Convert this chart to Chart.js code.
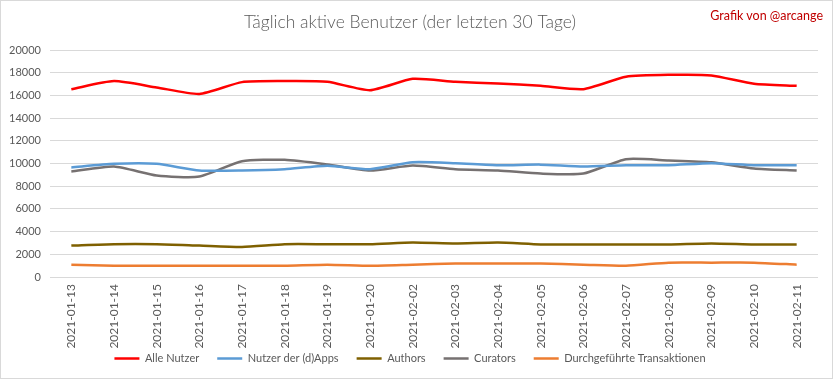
<!DOCTYPE html>
<html>
<head>
<meta charset="utf-8">
<script src="https://cdn.jsdelivr.net/npm/chart.js@4"></script>
<style>
    html, body { margin: 0; padding: 0; background: #fff; }
    #wrap { position: relative; width: 833px; height: 379px; box-sizing: border-box; border: 1px solid #d9d9d9; }
    #credit { position: absolute; top: 7px; right: 9px; font: 12.5px Lato, sans-serif; color: #c00000; }
</style>
</head>
<body>
<div id="wrap">
    <canvas id="chart" width="831" height="377"></canvas>
    <div id="credit">Grafik von @arcange</div>
</div>
<script>
// ── Data ───────────────────────────────────────────────
var dates = ['2021-01-13', '2021-01-14', '2021-01-15', '2021-01-16', '2021-01-17', '2021-01-18',
             '2021-01-19', '2021-01-20', '2021-02-02', '2021-02-03', '2021-02-04', '2021-02-05',
             '2021-02-06', '2021-02-07', '2021-02-08', '2021-02-09', '2021-02-10', '2021-02-11'];

var alleNutzer   = [16550, 17260, 16700, 16130, 17170, 17260, 17200, 16460, 17460, 17200,
                    17050, 16840, 16550, 17640, 17810, 17760, 17020, 16840];
var dappsNutzer  = [9650, 9970, 9970, 9380, 9380, 9500, 9800, 9500, 10110, 10030,
                    9850, 9900, 9730, 9850, 9850, 10030, 9850, 9850];
var authors      = [2770, 2890, 2890, 2770, 2650, 2890, 2890, 2890, 3035, 2950,
                    3035, 2860, 2860, 2860, 2860, 2950, 2860, 2860];
var curators     = [9290, 9730, 8940, 8850, 10200, 10320, 9910, 9380, 9820, 9500,
                    9380, 9115, 9115, 10380, 10270, 10110, 9560, 9380];
var transaktionen = [1090, 1000, 1000, 1000, 1000, 1000, 1090, 1000, 1090, 1180,
                     1180, 1180, 1090, 1000, 1265, 1265, 1265, 1090];

var yTicks = [0, 2000, 4000, 6000, 8000, 10000, 12000, 14000, 16000, 18000, 20000];

// ── Style helpers ──────────────────────────────────────
var textColor = '#595959';
var gridColor = '#d9d9d9';
var fontFamily = 'Lato, sans-serif';

function series(label, data, color) {
    return {
        label: label, data: data,
        borderColor: color, backgroundColor: color,
        borderWidth: 2.5, pointRadius: 0, tension: 0.2, fill: false
    };
}

new Chart(document.getElementById('chart'), {
    type: 'line',
    data: {
        labels: dates,
        datasets: [
            series('Alle Nutzer', alleNutzer, '#ff0000'),
            series('Nutzer der (d)Apps', dappsNutzer, '#5b9bd5'),
            series('Authors', authors, '#7f6000'),
            series('Curators', curators, '#767171'),
            series('Durchgeführte Transaktionen', transaktionen, '#ed7d31')
        ]
    },
    options: {
        responsive: false,
        animation: false,
        layout: { padding: { left: 1, right: 14, top: 0, bottom: 4 } },
        plugins: {
            title: {
                display: true,
                text: 'Täglich aktive Benutzer (der letzten 30 Tage)',
                color: textColor,
                font: { family: fontFamily, size: 17.5, weight: '300' },
                padding: { top: 11, bottom: 17 }
            },
            legend: {
                position: 'bottom',
                labels: {
                    color: textColor,
                    font: { family: fontFamily, size: 11 },
                    usePointStyle: true,
                    pointStyle: 'line',
                    pointStyleWidth: 25,
                    boxHeight: 11,
                    padding: 18
                }
            },
            tooltip: { enabled: false }
        },
        scales: {
            x: {
                offset: true,
                grid: { display: false, drawTicks: false },
                border: { display: false },
                ticks: {
                    color: textColor, font: { family: fontFamily, size: 12 },
                    minRotation: 90, maxRotation: 90, autoSkip: false, padding: 7
                },
                afterFit: function (s) {
                    s.height = 58;
                    // rotated dates reach into the legend's top padding, like the original
                    s._computeLabelArea = function () { return undefined; };
                }
            },
            y: {
                min: 0, max: 20000,
                border: { display: false },
                grid: { color: gridColor, drawTicks: false },
                afterBuildTicks: function (s) {
                    s.ticks = yTicks.map(function (v) { return { value: v }; });
                },
                ticks: {
                    color: textColor, font: { family: fontFamily, size: 11 },
                    padding: 9,
                    callback: function (v) { return String(v); }
                },
                afterFit: function (s) { s.width = 48; }
            }
        }
    }
});
</script>
</body>
</html>
